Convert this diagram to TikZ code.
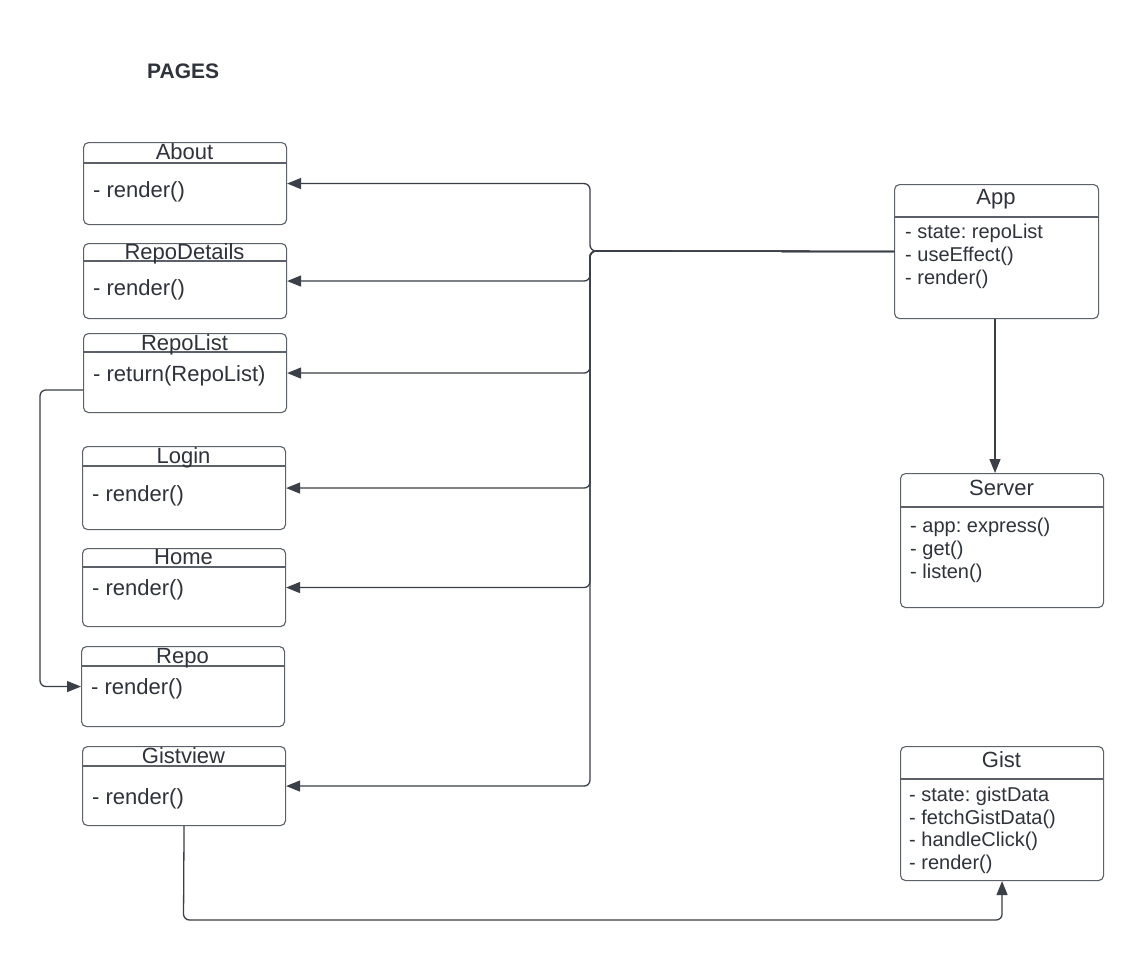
\documentclass[tikz,border=0pt]{standalone}
\usepackage{fontspec}
\setmainfont{Liberation Sans}
\usetikzlibrary{arrows.meta,calc}
\definecolor{ln}{HTML}{3A3F48}
\definecolor{bx}{HTML}{5C6068}
\definecolor{tx}{HTML}{2E323A}
\frenchspacing
\begin{document}
\begin{tikzpicture}[x=1pt,y=-1pt,
  box/.style={draw=bx, line width=1.1pt, rounded corners=5pt, anchor=north west, inner sep=0pt, minimum width=203pt},
  hdr/.style={draw=bx, line width=1.1pt},
  ttl/.style={font=\fontsize{22}{24}\selectfont, text=tx, anchor=base, inner sep=0pt},
  mem/.style={font=\fontsize{22}{24}\selectfont, text=tx, anchor=base west, inner sep=0pt},
  rmem/.style={font=\fontsize{20}{22}\selectfont, text=tx, anchor=base west, inner sep=0pt},
  conn/.style={draw=ln, line width=1.3pt, rounded corners=6pt},
  arr/.style={conn, -{Triangle[length=14pt,width=11pt]}}]
\useasboundingbox (0,0) rectangle (1143,961);
\fill[white] (0,0) rectangle (1143,961);

\node[font=\bfseries\fontsize{21}{24}\selectfont, text=tx, anchor=base west, inner sep=0pt] (pages) at (147,78) {PAGES};

% About
\node[box, minimum height=82pt] (about) at (83,142) {};
\draw[hdr] (83,163) -- (286,163);
\node[ttl] (aboutT) at (184.5,159) {About};
\node[mem] (aboutM) at (93,197) {- render()};

% RepoDetails
\node[box, minimum height=75pt] (repodetails) at (83,243) {};
\draw[hdr] (83,261) -- (286,261);
\node[ttl] (repodetailsT) at (184.5,259) {RepoDetails};
\node[mem] (repodetailsM) at (93,295) {- render()};

% RepoList
\node[box, minimum height=79pt] (repolist) at (83,333) {};
\draw[hdr] (83,352) -- (286,352);
\node[ttl] (repolistT) at (184.5,350) {RepoList};
\node[mem] (repolistM) at (93,381) {- return(RepoList)};

% Login
\node[box, minimum height=83pt] (login) at (82,446) {};
\draw[hdr] (82,466) -- (285,466);
\node[ttl] (loginT) at (183.5,463) {Login};
\node[mem] (loginM) at (92,501) {- render()};

% Home
\node[box, minimum height=78pt] (home) at (82,548) {};
\draw[hdr] (82,567) -- (285,567);
\node[ttl] (homeT) at (183.5,564) {Home};
\node[mem] (homeM) at (92,595) {- render()};

% Repo
\node[box, minimum height=80pt] (repo) at (81,646) {};
\draw[hdr] (81,666) -- (284,666);
\node[ttl] (repoT) at (182.5,663) {Repo};
\node[mem] (repoM) at (91,694) {- render()};

% Gistview
\node[box, minimum height=79pt] (gistview) at (82,746) {};
\draw[hdr] (82,766) -- (285,766);
\node[ttl] (gistviewT) at (183.5,763) {Gistview};
\node[mem] (gistviewM) at (92,804) {- render()};

% App
\node[box, minimum width=204pt, minimum height=134pt] (app) at (894,184) {};
\draw[hdr] (894,217) -- (1098,217);
\node[ttl] (appT) at (996,204) {App};
\node[rmem] (app1) at (905,238) {- state: repoList};
\node[rmem] (app2) at (905,261) {- useEffect()};
\node[rmem] (app3) at (905,284) {- render()};

% Server
\node[box, minimum height=134pt] (server) at (900,473) {};
\draw[hdr] (900,507) -- (1103,507);
\node[ttl] (serverT) at (1001.5,495) {Server};
\node[rmem] (server1) at (910,532) {- app: express()};
\node[rmem] (server2) at (910,555) {- get()};
\node[rmem] (server3) at (910,578) {- listen()};

% Gist
\node[box, minimum height=134pt] (gist) at (900,746) {};
\draw[hdr] (900,779) -- (1103,779);
\node[ttl] (gistT) at (1001.5,767) {Gist};
\node[rmem] (gist1) at (909,801) {- state: gistData};
\node[rmem] (gist2) at (909,824) {- fetchGistData()};
\node[rmem] (gist3) at (909,846) {- handleClick()};
\node[rmem] (gist4) at (909,869) {- render()};

% connectors from App
\coordinate (jn) at (590,251);
\draw[arr] (app.west) -- (jn) |- (about.east);
\draw[arr] (app.west) -- (jn) |- (repodetails.east);
\draw[arr] (app.west) -- (jn) |- (repolist.east);
\draw[arr] (app.west) -- (jn) |- (login.east);
\draw[arr] (app.west) -- (jn) |- (home.east);
\draw[arr] (app.west) -- (jn) |- (gistview.east);

% App -> Server
\draw[arr] (app.south -| 995,0) -- (server.north -| 995,0);

% RepoList -> Repo
\coordinate (rlout) at (83,390);
\coordinate (rlbend) at (40,390);
\draw[arr] (rlout) -- (rlbend) |- (repo.west);

% Gistview -> Gist
\coordinate (gvbot) at (183.5,920);
\draw[arr] (gistview.south) -- (gvbot) -| (gist.south);
\end{tikzpicture}
\end{document}
